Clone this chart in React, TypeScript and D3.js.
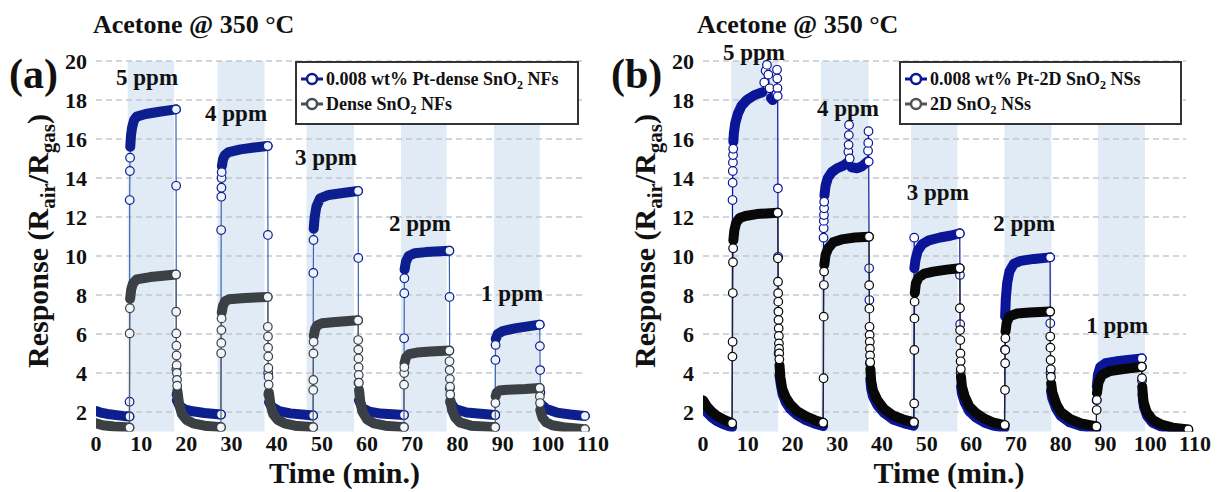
import React from "react";
import * as d3 from "d3";

type P = [number, number, number]; // [time, response, kind] kind: 0 trace, 1 marker, 2 trace end + marker

const timeTicks = [0, 10, 20, 30, 40, 50, 60, 70, 80, 90, 100, 110];
const respTicks = [2, 4, 6, 8, 10, 12, 14, 16, 18, 20];
const ppmLabels = ["5 ppm", "4 ppm", "3 ppm", "2 ppm", "1 ppm"];
const exposuresA: [number, number][] = [[7, 17.3], [26.9, 37.3], [46.6, 57.1], [67.5, 77.6], [88.1, 98.2]];
const exposuresB: [number, number][] = [[6.3, 16.8], [26.4, 37.0], [46.5, 56.9], [67.4, 77.9], [88.3, 98.8]];
const ppmPosA: [number, number][] = [[11.3, 18.75], [31.0, 16.9], [50.9, 14.65], [71.7, 11.3], [92.1, 7.7]];
const ppmPosB: [number, number][] = [[11.4, 20.05], [32.4, 17.18], [52.5, 12.87], [71.8, 11.28], [92.6, 6.05]];
const legendA = ["0.008 wt% Pt-dense SnO", "Dense SnO"];
const legendASuffix = [" NFs", " NFs"];
const legendB = ["0.008 wt% Pt-2D SnO", "2D SnO"];
const legendBSuffix = [" NSs", " NSs"];

const ptDenseNF: P[] = [
  [0,2.05,0],[1,1.97,0],[2.5,1.9,0],[4.5,1.84,0],[6,1.8,0],[7.4,1.77,2],
  [7.43,2.53,1],[7.46,12.87,1],[7.5,14.36,1],[7.54,15.04,1],[7.58,15.6,0],[7.75,16.2,0],[8.0,16.6,0],[8.4,16.95,0],[9,17.15,0],[11,17.28,0],[14,17.4,0],[17.7,17.52,2],
  [17.74,13.6,1],[17.78,4.2,1],[17.82,2.9,1],[17.9,2.6,0],[18.5,2.32,0],[19.5,2.15,0],[21,2.05,0],[24,1.95,0],[27.65,1.87,2],
  [27.7,11.33,1],[27.73,13.04,1],[27.76,13.5,1],[27.79,14.0,1],[27.82,14.3,1],[27.86,14.6,0],[28.1,14.95,0],[28.5,15.17,0],[29.4,15.33,0],[32,15.47,0],[35,15.56,0],[38.0,15.64,2],
  [38.05,11.08,1],[38.1,4.0,1],[38.15,2.9,1],[38.3,2.5,0],[39,2.25,0],[40.5,2.05,0],[43,1.93,0],[48.05,1.82,2],
  [48.1,9.13,1],[48.14,10.82,1],[48.18,11.4,0],[48.4,12.0,0],[48.8,12.55,0],[49.6,12.95,0],[51.5,13.13,0],[55,13.24,0],[58.0,13.33,2],
  [58.05,9.9,1],[58.1,3.5,1],[58.2,2.6,0],[59,2.2,0],[60.5,2.02,0],[63,1.92,0],[68.15,1.85,2],
  [68.2,5.78,1],[68.23,8.09,1],[68.26,8.86,1],[68.3,9.3,0],[68.6,9.72,0],[69.2,10.0,0],[70.5,10.14,0],[73,10.2,0],[78.2,10.27,2],
  [78.25,7.9,1],[78.3,3.2,1],[78.4,2.5,0],[79.5,2.15,0],[82,1.97,0],[88.35,1.85,2],
  [88.4,4.67,1],[88.44,5.44,1],[88.48,5.75,0],[88.9,6.0,0],[90,6.15,0],[93,6.3,0],[98.2,6.48,2],
  [98.25,5.38,1],[98.3,4.15,1],[98.35,3.0,1],[98.5,2.4,0],[99.7,2.15,0],[102,1.97,0],[105,1.87,0],[108.2,1.8,2],
];

const denseNF: P[] = [
  [0,1.42,0],[1.5,1.32,0],[4,1.26,0],[7.4,1.2,2],
  [7.45,6.03,1],[7.5,7.32,1],[7.55,7.8,0],[7.8,8.3,0],[8.2,8.6,0],[9,8.8,0],[12,8.92,0],[17.7,9.05,2],
  [17.74,7.14,1],[17.77,6.03,1],[17.8,5.4,1],[17.83,4.9,1],[17.86,4.4,1],[17.9,4.0,1],[17.93,3.65,1],[17.97,3.35,1],[18.0,3.1,0],[18.4,2.4,0],[19.0,1.9,0],[20,1.6,0],[21.5,1.42,0],[24,1.3,0],[27.65,1.22,2],
  [27.7,5.01,1],[27.73,5.54,1],[27.76,6.2,1],[27.79,6.8,1],[27.83,7.1,0],[28.1,7.45,0],[28.6,7.68,0],[29.4,7.78,0],[33,7.85,0],[38,7.9,2],
  [38.03,6.37,1],[38.06,5.87,1],[38.09,5.3,1],[38.12,4.85,1],[38.15,4.26,1],[38.18,3.8,1],[38.21,3.4,1],[38.25,3.0,0],[38.6,2.4,0],[39.2,1.9,0],[40.2,1.6,0],[41.7,1.42,0],[44,1.3,0],[48.05,1.22,2],
  [48.08,3.13,1],[48.1,3.64,1],[48.13,5.0,1],[48.16,5.6,1],[48.2,5.9,0],[48.5,6.25,0],[49,6.45,0],[50,6.55,0],[53,6.62,0],[58,6.7,2],
  [58.03,5.69,1],[58.06,5.2,1],[58.09,4.75,1],[58.12,4.3,1],[58.15,3.9,1],[58.18,3.5,1],[58.22,3.13,0],[58.5,2.5,0],[59,2.0,0],[60,1.62,0],[61.5,1.42,0],[64,1.3,0],[68.15,1.22,2],
  [68.18,3.4,1],[68.21,4.0,1],[68.24,4.3,1],[68.28,4.5,0],[68.6,4.8,0],[69.3,4.97,0],[71,5.05,0],[74,5.1,0],[78.2,5.15,2],
  [78.24,4.6,1],[78.28,4.15,1],[78.32,3.7,1],[78.36,3.3,1],[78.4,2.9,1],[78.45,2.6,0],[78.8,2.1,0],[79.5,1.72,0],[80.5,1.47,0],[83,1.3,0],[88.35,1.22,2],
  [88.4,2.46,1],[88.45,2.8,0],[88.7,3.0,0],[89.3,3.1,0],[91,3.14,0],[95,3.18,0],[98.2,3.23,2],
  [98.24,2.8,1],[98.28,2.46,1],[98.33,2.1,0],[98.8,1.72,0],[99.6,1.47,0],[101,1.32,0],[104,1.2,0],[108.2,1.12,2],
];

const pt2DNS: P[] = [
  [0,2.3,0],[1,1.95,0],[2,1.72,0],[3,1.55,0],[4.5,1.38,0],[6.5,1.22,0],
  [6.6,12.87,1],[6.63,13.76,1],[6.66,14.36,1],[6.69,14.8,1],[6.72,15.18,1],[6.75,15.5,1],[6.78,15.86,0],[6.9,16.3,0],[7.2,16.8,0],[7.8,17.3,0],[8.6,17.7,0],[9.8,18.0,0],[11.5,18.25,0],[13.3,18.4,0],
  [13.7,18.9,1],[14.0,19.5,1],[14.3,19.8,1],[14.6,19.3,1],[14.9,18.6,1],[15.2,18.1,0],[15.6,18.0,0],[16.0,18.15,0],[16.4,18.3,2],[16.55,19.55,1],[16.6,19.1,1],[16.65,18.6,1],[16.7,18.2,1],
  [16.75,13.47,1],[16.8,9.96,1],[16.9,5.0,1],[17.1,3.9,0],[17.4,3.4,0],[17.8,2.9,0],[18.5,2.5,0],[19.5,2.15,0],[21,1.85,0],[23,1.58,0],[25,1.4,0],[26.85,1.28,0],
  [26.95,10.94,1],[26.98,11.42,1],[27.01,11.8,1],[27.04,12.1,1],[27.07,12.45,1],[27.1,12.78,1],[27.15,13.1,0],[27.4,13.6,0],[27.9,14.0,0],[28.8,14.3,0],[30,14.5,0],[31.5,14.65,0],[32.4,14.8,0],
  [32.5,15.35,1],[32.55,15.7,1],[32.6,16.2,1],[32.65,16.72,1],[32.8,15.0,1],[33.2,14.55,0],[34.5,14.5,0],[35.5,14.6,0],[36.8,14.84,0],
  [36.9,15.4,1],[36.95,15.8,1],[37.0,16.4,1],[37.05,14.84,1],
  [37.15,9.37,1],[37.2,7.74,1],[37.3,4.5,1],[37.4,3.7,0],[37.6,3.2,0],[38,2.8,0],[39,2.35,0],[40.5,1.95,0],[42.5,1.62,0],[45,1.42,0],[47.1,1.3,0],
  [47.22,10.94,1],[47.26,9.37,0],[47.5,9.8,0],[48,10.25,0],[49,10.6,0],[50.5,10.8,0],[53,10.95,0],[55.5,11.05,0],[57.4,11.16,2],
  [57.45,9.03,1],[57.5,6.5,1],[57.6,4.0,1],[57.7,3.3,0],[57.9,2.95,0],[58.5,2.5,0],[59.5,2.05,0],[61,1.72,0],[63,1.45,0],[65,1.3,0],[67.4,1.18,0],
  [67.5,5.2,1],[67.55,6.9,0],[67.7,7.8,0],[68,8.6,0],[68.5,9.2,0],[69.5,9.6,0],[71,9.75,0],[74,9.85,0],[77.6,9.93,2],
  [77.65,6.55,1],[77.7,4.0,1],[77.8,3.1,0],[78.1,2.7,0],[79,2.15,0],[80,1.8,0],[82,1.47,0],[84.5,1.28,0],[87.9,1.15,0],
  [88.0,2.6,1],[88.05,3.3,0],[88.3,3.9,0],[88.8,4.3,0],[90,4.5,0],[93,4.62,0],[98.1,4.75,2],
  [98.15,3.6,1],[98.25,2.9,0],[98.6,2.25,0],[99.3,1.8,0],[100.5,1.45,0],[102.5,1.25,0],[105,1.12,0],[108.5,1.03,0],
];

const sno2DNS: P[] = [
  [0,2.6,0],[1,2.25,0],[2,2.0,0],[3,1.82,0],[4.5,1.62,0],[6.5,1.42,2],
  [6.58,4.84,1],[6.62,5.6,1],[6.66,8.1,1],[6.7,9.68,1],[6.74,10.4,1],[6.78,10.8,0],[7.0,11.3,0],[7.4,11.7,0],[8.2,11.95,0],[9.5,12.05,0],[12,12.15,0],[16.7,12.22,2],
  [16.74,9.88,1],[16.77,8.68,1],[16.8,8.09,1],[16.83,7.66,1],[16.86,7.15,1],[16.89,6.72,1],[16.92,6.29,1],[16.95,5.9,1],[16.98,5.52,1],[17.01,5.25,1],[17.04,5.0,1],[17.07,4.7,1],[17.1,4.4,0],[17.3,3.8,0],[17.7,3.2,0],[18.5,2.75,0],[19.5,2.4,0],[21,2.05,0],[23,1.78,0],[25,1.58,0],[26.85,1.45,2],
  [26.95,3.73,1],[26.99,6.89,1],[27.03,8.51,1],[27.07,9.2,1],[27.12,9.54,0],[27.4,10.05,0],[28,10.4,0],[29.1,10.7,0],[31,10.85,0],[34,10.95,0],[37.1,10.99,2],
  [37.15,8.5,1],[37.2,7.3,1],[37.23,6.37,1],[37.26,5.95,1],[37.29,5.6,1],[37.32,5.25,1],[37.35,4.9,1],[37.38,4.55,1],[37.42,4.2,0],[37.6,3.6,0],[38,3.1,0],[39,2.6,0],[40.5,2.15,0],[42.5,1.82,0],[45,1.6,0],[47.15,1.48,2],
  [47.22,2.44,1],[47.25,5.18,1],[47.28,6.8,1],[47.31,7.66,1],[47.35,8.1,0],[47.6,8.6,0],[48.2,8.9,0],[49.5,9.1,0],[51.5,9.2,0],[54.5,9.3,0],[57.4,9.37,2],
  [57.44,7.32,1],[57.48,6.2,1],[57.52,5.69,1],[57.56,5.0,1],[57.6,4.6,1],[57.64,4.2,1],[57.68,3.8,0],[57.9,3.3,0],[58.5,2.8,0],[59.5,2.3,0],[61,1.95,0],[63,1.65,0],[65,1.45,0],[67.45,1.33,2],
  [67.52,3.13,1],[67.55,4.5,1],[67.58,5.18,1],[67.61,5.78,1],[67.64,6.12,0],[67.9,6.6,0],[68.5,6.9,0],[70.2,7.05,0],[73,7.1,0],[77.6,7.15,2],
  [77.64,5.87,1],[77.68,5.3,1],[77.72,4.67,1],[77.76,4.2,1],[77.8,3.8,1],[77.84,3.47,0],[78.1,3.0,0],[79,2.4,0],[80,2.0,0],[82,1.65,0],[84.5,1.42,0],[87.95,1.26,2],
  [88.02,2.1,1],[88.05,2.62,1],[88.08,2.97,0],[88.4,3.5,0],[89.2,3.9,0],[91,4.1,0],[94,4.2,0],[98.1,4.32,2],
  [98.15,3.73,1],[98.2,3.3,0],[98.5,2.5,0],[99.2,2.0,0],[100.5,1.6,0],[102.5,1.35,0],[105,1.2,0],[108.5,1.1,2],
];

const FONT = "'Liberation Serif', 'Times New Roman', serif";

type SeriesStyle = { pts: P[]; band: string; line: string; fill: string; lineW: number };

function Series({ s, x, y }: { s: SeriesStyle; x: d3.ScaleLinear<number, number>; y: d3.ScaleLinear<number, number> }) {
  const thin = d3.line<P>().x((d) => x(d[0])).y((d) => y(d[1]))(s.pts) || "";
  const thick = d3
    .line<P>()
    .defined((d) => d[2] !== 1)
    .x((d) => x(d[0]))
    .y((d) => y(d[1]))(s.pts) || "";
  return (
    <g>
      <path d={thin} fill="none" stroke={s.line} strokeWidth={s.lineW} />
      <path d={thick} fill="none" stroke={s.band} strokeWidth={10} strokeLinecap="round" strokeLinejoin="round" />
      {s.pts
        .filter((d) => d[2] > 0)
        .map((d, i) => (
          <circle key={i} cx={x(d[0])} cy={y(d[1])} r={4.3} fill={s.fill} stroke={s.band} strokeWidth={1.2} />
        ))}
    </g>
  );
}

type PanelProps = {
  id: string;
  left: number;
  right: number;
  exposures: [number, number][];
  ppmPos: [number, number][];
  series: SeriesStyle[];
  letter: string;
  letterX: number;
  titleX: number;
  ylabX: number;
  legendX: number;
  legendW: number;
  legendNames: string[];
  legendSuffix: string[];
  legendColors: string[];
};

function Panel(p: PanelProps) {
  const x = d3.scaleLinear().domain([0, 110]).range([p.left, p.right]);
  const y = d3.scaleLinear().domain([1, 20]).range([431.5, 61]);
  const gridEnd = x(108);
  return (
    <g fontFamily={FONT}>
      <defs>
        <clipPath id={`clip-${p.id}`}>
          <rect x={x(0)} y={y(20) - 2} width={x(110) - x(0)} height={y(1) - y(20) + 2} />
        </clipPath>
      </defs>
      {p.exposures.map((e, i) => (
        <rect key={i} x={x(e[0])} y={y(20)} width={x(e[1]) - x(e[0])} height={y(1) - y(20)} fill="#e0ebf6" />
      ))}
      {respTicks.map((t) => (
        <line key={t} x1={x(0)} x2={gridEnd} y1={y(t)} y2={y(t)} stroke="#c3c8cd" strokeWidth={1.5} strokeDasharray="6,4" />
      ))}
      <g clipPath={`url(#clip-${p.id})`}>
        {p.series.map((s, i) => (
          <Series key={i} s={s} x={x} y={y} />
        ))}
      </g>
      {respTicks.map((t) => (
        <text key={t} x={x(0) - 9} y={y(t) + 7.5} textAnchor="end" fontSize={22} fontWeight="bold" fill="#111">
          {t}
        </text>
      ))}
      {timeTicks.map((t) => (
        <text key={t} x={x(t)} y={451} textAnchor="middle" fontSize={22} fontWeight="bold" fill="#111">
          {t}
        </text>
      ))}
      <text x={(x(0) + x(110)) / 2} y={483} textAnchor="middle" fontSize={30} fontWeight="bold" fill="#111">
        Time (min.)
      </text>
      <text transform={`translate(${p.ylabX},241) rotate(-90)`} textAnchor="middle" fontSize={30} fontWeight="bold" fill="#111">
        Response (R<tspan dy={7} fontSize={21}>air</tspan>
        <tspan dy={-7}>/R</tspan>
        <tspan dy={7} fontSize={21}>gas</tspan>
        <tspan dy={-7}>)</tspan>
      </text>
      <text x={p.titleX} y={33} fontSize={26} fontWeight="bold" fill="#111">
        Acetone @ 350 °C
      </text>
      <text x={p.letterX} y={88} fontSize={42} fontWeight="bold" fill="#111">
        {p.letter}
      </text>
      {p.ppmPos.map((q, i) => (
        <text key={i} x={x(q[0])} y={y(q[1])} textAnchor="middle" fontSize={23} fontWeight="bold" fill="#111">
          {ppmLabels[i]}
        </text>
      ))}
      <g>
        <rect x={p.legendX} y={62} width={p.legendW} height={62} fill="#fff" stroke="#333" strokeWidth={2} />
        {p.legendNames.map((n, i) => {
          const ly = 79 + i * 25;
          return (
            <g key={i}>
              <line x1={p.legendX + 5} x2={p.legendX + 27} y1={ly} y2={ly} stroke={p.legendColors[i]} strokeWidth={3} />
              <circle cx={p.legendX + 16} cy={ly} r={5} fill="#fff" stroke={p.legendColors[i]} strokeWidth={2.5} />
              <text x={p.legendX + 30} y={ly + 6} fontSize={18} fontWeight="bold" fill="#111">
                {n}
                <tspan dy={4} fontSize={12}>2</tspan>
                <tspan dy={-4}>{p.legendSuffix[i]}</tspan>
              </text>
            </g>
          );
        })}
      </g>
    </g>
  );
}

export default function App() {
  const seriesA: SeriesStyle[] = [
    { pts: ptDenseNF, band: "#0d1f8f", line: "#3a63b8", fill: "#eef4fb", lineW: 1.2 },
    { pts: denseNF, band: "#3b4045", line: "#5a6066", fill: "#f2f6fa", lineW: 1.2 },
  ];
  const seriesB: SeriesStyle[] = [
    { pts: pt2DNS, band: "#0b1597", line: "#0b1597", fill: "#ffffff", lineW: 1.2 },
    { pts: sno2DNS, band: "#080808", line: "#222", fill: "#ffffff", lineW: 1.1 },
  ];
  return (
    <svg width={1221} height={492} style={{ position: "absolute", left: 0, top: 0, background: "#fff" }}>
      <rect width={1221} height={492} fill="#fff" />
      <Panel
        id="a"
        left={96}
        right={593}
        exposures={exposuresA}
        ppmPos={ppmPosA}
        series={seriesA}
        letter="(a)"
        letterX={9}
        titleX={93}
        ylabX={48}
        legendX={296}
        legendW={282}
        legendNames={legendA}
        legendSuffix={legendASuffix}
        legendColors={["#0d1f8f", "#4a4f54"]}
      />
      <Panel
        id="b"
        left={703}
        right={1195}
        exposures={exposuresB}
        ppmPos={ppmPosB}
        series={seriesB}
        letter="(b)"
        letterX={611}
        titleX={697}
        ylabX={655}
        legendX={900}
        legendW={281}
        legendNames={legendB}
        legendSuffix={legendBSuffix}
        legendColors={["#0b1597", "#555"]}
      />
    </svg>
  );
}
